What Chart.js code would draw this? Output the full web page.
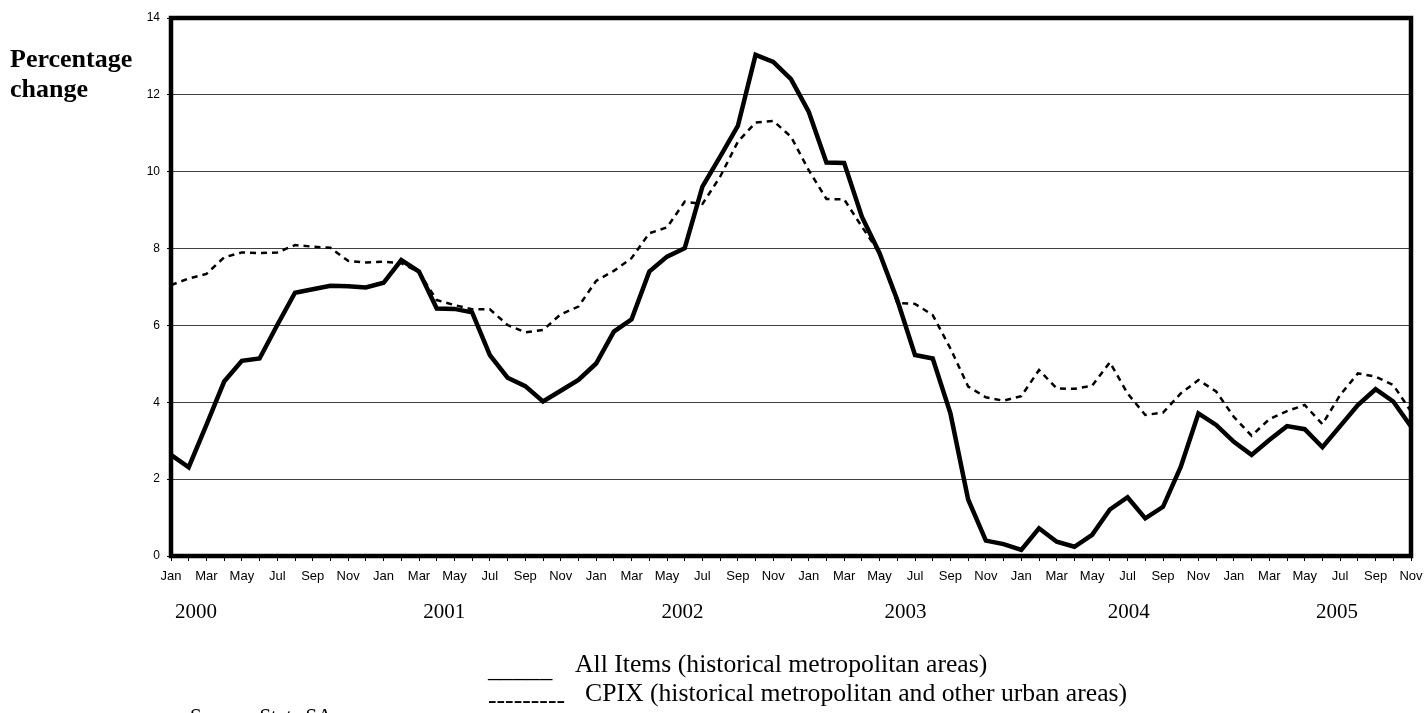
<!DOCTYPE html>
<html>
<head>
<meta charset="utf-8">
<script src="https://cdn.jsdelivr.net/npm/chart.js@4/dist/chart.umd.min.js"></script>
<style>
  html, body { margin: 0; padding: 0; background: #fff; }
  #wrap { width: 1424px; height: 713px; position: relative; }
</style>
</head>
<body>
<div id="wrap"><canvas id="c" width="1424" height="713"></canvas></div>
<script>
// ---- Data ----
const categories = [
  'Jan','Feb','Mar','Apr','May','Jun','Jul','Aug','Sep','Oct','Nov','Dec', // 2000
  'Jan','Feb','Mar','Apr','May','Jun','Jul','Aug','Sep','Oct','Nov','Dec', // 2001
  'Jan','Feb','Mar','Apr','May','Jun','Jul','Aug','Sep','Oct','Nov','Dec', // 2002
  'Jan','Feb','Mar','Apr','May','Jun','Jul','Aug','Sep','Oct','Nov','Dec', // 2003
  'Jan','Feb','Mar','Apr','May','Jun','Jul','Aug','Sep','Oct','Nov','Dec', // 2004
  'Jan','Feb','Mar','Apr','May','Jun','Jul','Aug','Sep','Oct','Nov'        // 2005
];

const allItems = [
  2.63, 2.31, 3.41, 4.54, 5.08, 5.14, 6.01, 6.85, 6.94, 7.03, 7.02, 6.99,
  7.11, 7.70, 7.40, 6.44, 6.43, 6.34, 5.23, 4.64, 4.42, 4.02, 4.30, 4.58,
  5.01, 5.84, 6.16, 7.40, 7.79, 8.01, 9.61, 10.39, 11.19, 13.04, 12.86, 12.41,
  11.56, 10.24, 10.23, 8.83, 7.88, 6.66, 5.23, 5.14, 3.71, 1.47, 0.40, 0.31,
  0.16, 0.72, 0.37, 0.24, 0.55, 1.21, 1.53, 0.98, 1.28, 2.32, 3.71, 3.41,
  2.97, 2.63, 3.02, 3.38, 3.30, 2.83, 3.38, 3.93, 4.34, 4.02, 3.37
];

const cpix = [
  7.05, 7.22, 7.34, 7.77, 7.90, 7.88, 7.90, 8.09, 8.05, 8.02, 7.68, 7.64,
  7.66, 7.62, 7.38, 6.66, 6.53, 6.42, 6.42, 6.01, 5.82, 5.88, 6.29, 6.49,
  7.16, 7.42, 7.75, 8.40, 8.55, 9.22, 9.16, 9.87, 10.78, 11.28, 11.32, 10.91,
  10.04, 9.29, 9.28, 8.57, 7.88, 6.58, 6.56, 6.27, 5.40, 4.41, 4.13, 4.04,
  4.16, 4.84, 4.36, 4.35, 4.43, 5.04, 4.23, 3.67, 3.73, 4.23, 4.58, 4.28,
  3.62, 3.13, 3.56, 3.77, 3.93, 3.43, 4.19, 4.75, 4.67, 4.45, 3.76
];

const yTickValues = [0, 2, 4, 6, 8, 10, 12, 14];
const yearLabels = ['2000', '2001', '2002', '2003', '2004', '2005'];
const seriesNames = [
  'All Items (historical metropolitan areas)',
  'CPIX (historical metropolitan and other urban areas)'
];
const axisTitle = ['Percentage', 'change'];
const sourceText = 'Source: Stats SA';

// ---- Layout (positions of free text, in month-index units / pixels) ----
const yearAt = [1.41, 15.42, 28.87, 41.47, 54.07, 65.82];
const SERIF = '"Liberation Serif", "Times New Roman", serif';
const SANS = '"Liberation Sans", Arial, sans-serif';

const annotations = {
  id: 'annotations',
  afterDraw(chart) {
    const ctx = chart.ctx;
    const a = chart.chartArea;
    const xs = chart.scales.x;
    ctx.save();
    // frame
    ctx.strokeStyle = '#000';
    ctx.lineWidth = 4.5;
    ctx.strokeRect(a.left, a.top, a.right - a.left, a.bottom - a.top);

    ctx.fillStyle = '#000';
    ctx.textBaseline = 'alphabetic';
    // axis title
    ctx.font = 'bold 26px ' + SERIF;
    ctx.textAlign = 'left';
    ctx.fillText(axisTitle[0], 10, 67);
    ctx.fillText(axisTitle[1], 10, 97);

    // years
    ctx.font = '21px ' + SERIF;
    ctx.textAlign = 'center';
    yearLabels.forEach((y, i) => {
      ctx.fillText(y, xs.getPixelForValue(yearAt[i]), 618);
    });

    // legend
    ctx.textAlign = 'left';
    ctx.font = '25.7px ' + SERIF;
    ctx.fillText('_____', 488, 677);
    ctx.fillText(seriesNames[0], 575, 672);
    ctx.fillText('---------', 488, 708);
    ctx.fillText(seriesNames[1], 585, 701);

    // source (cut off at the bottom edge)
    ctx.font = '21px ' + SERIF;
    ctx.fillText(sourceText, 190, 723);
    ctx.restore();
  }
};

new Chart(document.getElementById('c'), {
  type: 'line',
  data: {
    labels: categories,
    datasets: [
      {
        label: seriesNames[0],
        data: allItems,
        borderColor: '#000',
        borderWidth: 4.5,
        pointRadius: 0,
        tension: 0,
        fill: false,
        borderJoinStyle: 'miter'
      },
      {
        label: seriesNames[1],
        data: cpix,
        borderColor: '#000',
        borderWidth: 2.5,
        borderDash: [6, 5],
        pointRadius: 0,
        tension: 0,
        fill: false
      }
    ]
  },
  options: {
    responsive: false,
    animation: false,
    devicePixelRatio: 1,
    layout: { padding: { left: 0, right: 13, top: 18, bottom: 0 } },
    plugins: { legend: { display: false }, tooltip: { enabled: false }, title: { display: false } },
    scales: {
      x: {
        type: 'category',
        offset: false,
        border: { display: false },
        grid: {
          offset: false,
          drawOnChartArea: false,
          drawTicks: true,
          tickLength: 5,
          tickColor: '#000',
          color: '#000',
          lineWidth: 1
        },
        ticks: {
          autoSkip: false,
          maxRotation: 0,
          minRotation: 0,
          padding: 8,
          color: '#000',
          font: { family: SANS, size: 13 },
          callback: (v, i) => (i % 2 === 0 ? categories[i] : '')
        },
        afterFit: (s) => { s.height = 157; s.paddingLeft = 0; s.paddingRight = 0; }
      },
      y: {
        min: yTickValues[0],
        max: yTickValues[yTickValues.length - 1],
        border: { display: false },
        grid: {
          color: '#404040',
          lineWidth: 1,
          tickLength: 4,
          tickColor: '#000'
        },
        ticks: {
          stepSize: yTickValues[1] - yTickValues[0],
          padding: 7,
          color: '#000',
          font: { family: SANS, size: 12 }
        },
        afterFit: (s) => { s.width = 171; s.paddingTop = 0; s.paddingBottom = 0; }
      }
    }
  },
  plugins: [annotations]
});
</script>
</body>
</html>
